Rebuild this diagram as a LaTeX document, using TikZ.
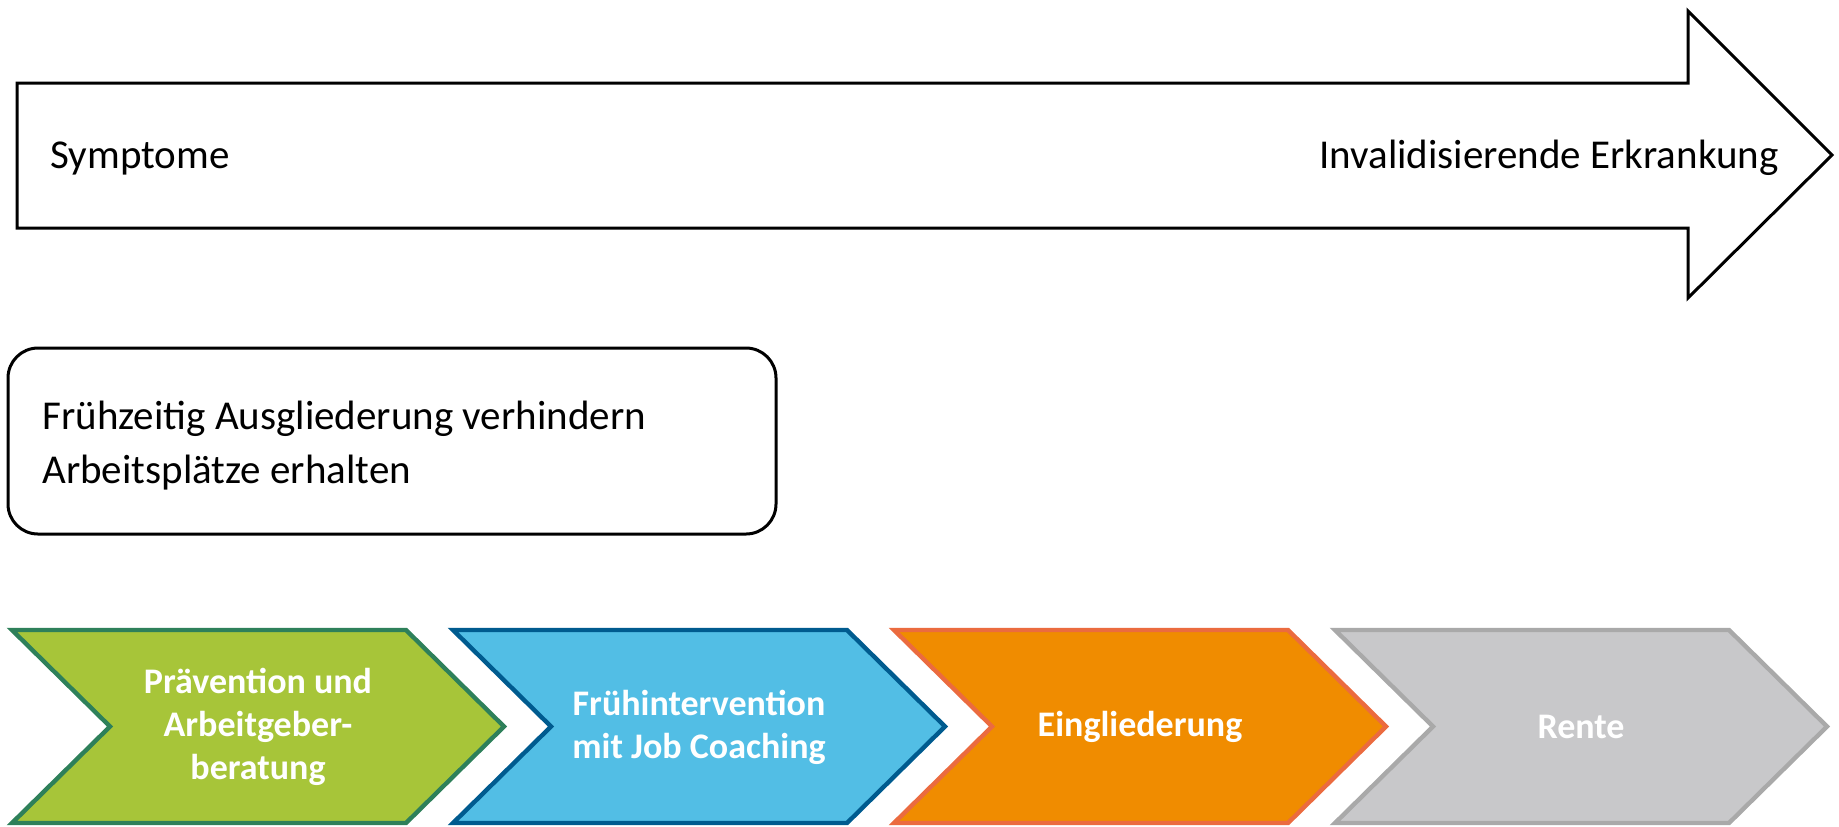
\documentclass[tikz,border=0pt]{standalone}
\usepackage{fontspec}
\setmainfont{Carlito}
\definecolor{grfill}{RGB}{167,197,57}
\definecolor{grline}{RGB}{46,128,90}
\definecolor{blfill}{RGB}{82,190,229}
\definecolor{blline}{RGB}{0,91,143}
\definecolor{orfill}{RGB}{240,140,0}
\definecolor{orline}{RGB}{235,107,63}
\definecolor{gyfill}{RGB}{200,200,202}
\definecolor{gyline}{RGB}{169,169,169}
\begin{document}
\begin{tikzpicture}[x=0.5pt,y=-0.5pt,
  outline/.style={draw=black,line width=1.5pt,fill=white},
  chev/.style={line width=2.2pt,line join=miter},
  lbl/.style={inner sep=0pt,font=\fontsize{20.5}{27}\selectfont},
  chevtext/.style={inner sep=0pt,text=white,align=center,font=\bfseries\fontsize{18}{21.5}\selectfont},
  chevron/.pic={\path[pic actions] (0,0) -- (394,0) -- (492,96.5) -- (394,193) -- (0,193) -- (98,96.5) -- cycle;}]
\useasboundingbox (0,0) rectangle (1839,826);
% big arrow
\draw[outline] (17,83) -- (1688,83) -- (1688,11) -- (1832,155) -- (1688,298) -- (1688,228) -- (17,228) -- cycle;
\node[lbl,anchor=base west] (sym) at (50,168) {Symptome};
\node[lbl,anchor=base east] (inv) at (1779,168) {Invalidisierende Erkrankung};
% rounded box
\draw[outline,rounded corners=15pt] (8,348) rectangle (776,534);
\node[lbl,anchor=west,align=left] (goal) at (42,446) {Frühzeitig Ausgliederung verhindern\\Arbeitsplätze erhalten};
% chevrons
\pic[chev,draw=grline,fill=grfill] at (12,630) {chevron};
\pic[chev,draw=blline,fill=blfill] at (453,630) {chevron};
\pic[chev,draw=orline,fill=orfill] at (894,630) {chevron};
\pic[chev,draw=gyline,fill=gyfill] at (1335,630) {chevron};
\node[chevtext] (c1) at (258,727) {Prävention und\\Arbeitgeber-\\beratung};
\node[chevtext] (c2) at (699,727) {Frühintervention\\mit Job Coaching};
\node[chevtext] (c3) at (1140,727) {Eingliederung};
\node[chevtext] (c4) at (1581,727) {Rente};
\end{tikzpicture}
\end{document}
